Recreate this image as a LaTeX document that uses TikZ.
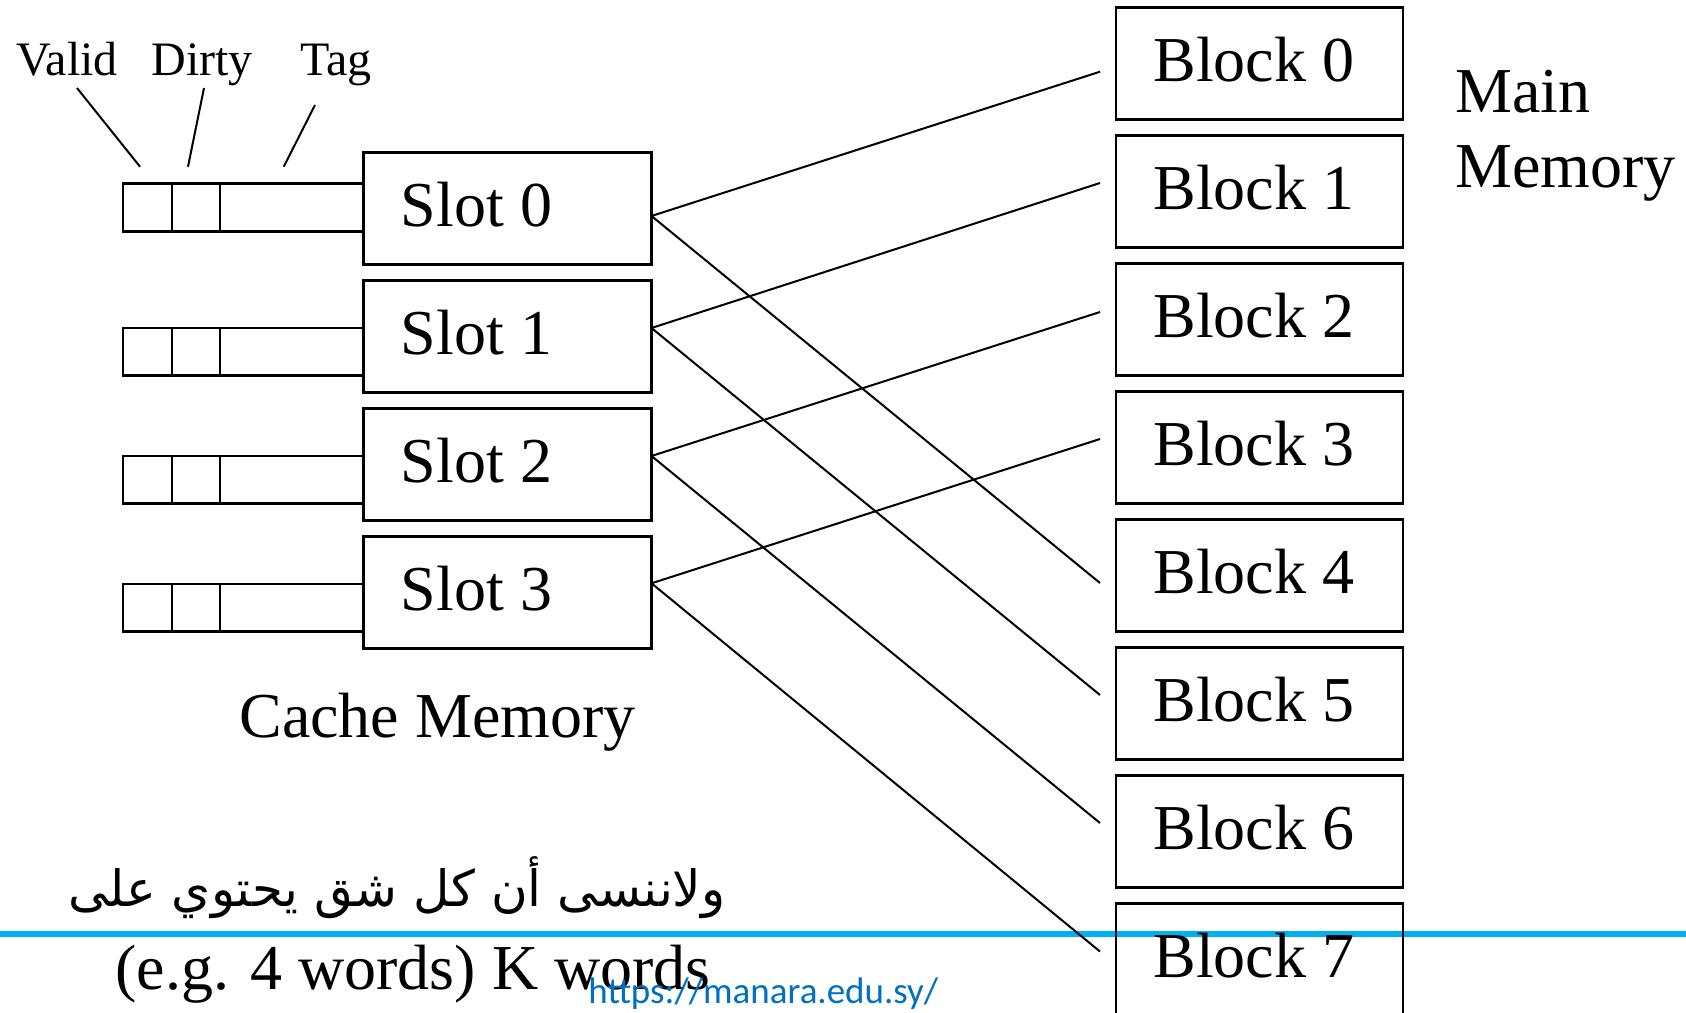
\documentclass[tikz,border=0pt]{standalone}
\usepackage{fontspec}
\setmainfont{Liberation Serif}
\newfontfamily\arabicfont[Script=Arabic]{DejaVu Sans}
\newfontfamily\urlfont{Carlito}
\TeXXeTstate=1
\usetikzlibrary{calc}
\definecolor{barblue}{RGB}{0,176,240}
\definecolor{urlblue}{RGB}{0,112,192}
\begin{document}
\begin{tikzpicture}[x=0.5pt,y=-0.5pt,
  memtext/.style={inner sep=0pt, anchor=base west, font=\fontsize{32pt}{38pt}\selectfont},
  smalltext/.style={inner sep=0pt, anchor=base west, font=\fontsize{24pt}{28pt}\selectfont},
  slotbox/.style={draw, line width=1.4pt, minimum width=144pt, minimum height=56pt, inner sep=0pt, outer sep=0pt, anchor=north west},
  blockbox/.style={draw, line width=1.4pt, minimum width=143.5pt, minimum height=56pt, inner sep=0pt, outer sep=0pt, anchor=north west},
  bitbox/.style={draw, line width=1.4pt, minimum height=23.7pt, inner sep=0pt, outer sep=0pt, anchor=north west},
  wire/.style={line width=1pt},
  leader/.style={line width=1pt}]
\useasboundingbox (0,0) rectangle (1686,1012);
\clip (0,0) rectangle (1686,1012);
\fill[white] (0,0) rectangle (1686,1012);
% blue bar
\coordinate (barL) at (0,934);
\coordinate (barR) at (1686,934);
\draw[barblue, line width=2.6pt] (barL) -- (barR);
% field labels
\node[smalltext] (valid) at (16,75) {Valid};
\node[smalltext] (dirty) at (151,75) {Dirty};
\node[smalltext] (tag) at (300,75) {Tag};
% slots
\foreach \i/\t/\b in {0/152.3/183.7, 1/280.3/328, 2/408.3/456, 3/536.3/584} {
  \node[slotbox] (slot\i) at (363.5,\t) {};
  \node[memtext] (slottext\i) at ($(slot\i.north west)+(37,74)$) {Slot \i};
  \node[bitbox, minimum width=24.5pt] (vb\i) at (123,\b) {};
  \node[bitbox, minimum width=24pt] (db\i) at (vb\i.north east) {};
  \node[bitbox, minimum width=71.75pt] (tb\i) at (db\i.north east) {};
}
% leaders
\coordinate (vend) at ($(vb0.north)+(-7.5,-17)$);
\coordinate (dend) at ($(db0.north)+(-8,-17)$);
\coordinate (tend) at ($(tb0.north)+(-8,-17)$);
\coordinate (vstart) at (77,88);
\coordinate (dstart) at (204,88);
\coordinate (tstart) at (315,105);
\draw[leader] (vstart) -- (vend);
\draw[leader] (dstart) -- (dend);
\draw[leader] (tstart) -- (tend);
% blocks
\foreach \i in {0,...,7} {
  \node[blockbox] (blk\i) at (1116,7.5+128*\i) {};
  \node[memtext] (blocktext\i) at ($(blk\i.north west)+(37,74)$) {Block \i};
}
% connector ends
\coordinate (s0) at ($(slot0.east)+(0,7.7)$);
\coordinate (s1) at ($(slot1.east)+(0,-8.3)$);
\coordinate (s2) at ($(slot2.east)+(0,-8.3)$);
\coordinate (s3) at ($(slot3.east)+(0,-9)$);
\coordinate (e0) at ($(blk0.west)+(-16,8.2)$);
\coordinate (e1) at ($(blk1.west)+(-16,-8.5)$);
\coordinate (e2) at ($(blk2.west)+(-16,-7.5)$);
\coordinate (e3) at ($(blk3.west)+(-16,-8.5)$);
\coordinate (e4) at ($(blk4.west)+(-16,7.5)$);
\coordinate (e5) at ($(blk5.west)+(-16,-8.5)$);
\coordinate (e6) at ($(blk6.west)+(-16,-8.5)$);
\coordinate (e7) at ($(blk7.west)+(-16,-8)$);
\draw[wire] (s0) -- (e0);
\draw[wire] (s0) -- (e4);
\draw[wire] (s1) -- (e1);
\draw[wire] (s1) -- (e5);
\draw[wire] (s2) -- (e2);
\draw[wire] (s2) -- (e6);
\draw[wire] (s3) -- (e3);
\draw[wire] (s3) -- (e7);
% titles
\node[memtext] (cache) at (239,737) {Cache Memory};
\node[memtext] (main1) at (1455,112) {Main};
\node[memtext] (main2) at (1455,187) {Memory};
% note
\node[inner sep=0pt, anchor=base east, font=\arabicfont\fontsize{25pt}{30pt}\selectfont] (arab) at (726,906) {\beginR ولاننسى أن كل شق يحتوي على\endR};
\node[memtext] (eg) at (115,989) {(e.g. 4 words) K words};
\node[inner sep=0pt, anchor=base west, text=urlblue, font=\urlfont\fontsize{18.5pt}{22pt}\selectfont] (url) at (588,1003) {https://manara.edu.sy/};
\end{tikzpicture}
\end{document}
